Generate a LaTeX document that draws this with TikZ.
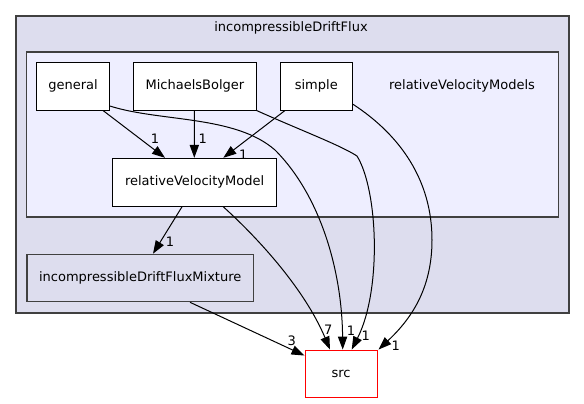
\documentclass[tikz,border=0pt]{standalone}
\usepackage{fontspec}
\setmainfont{DejaVu Sans}
\usetikzlibrary{arrows.meta}
\definecolor{outerfill}{HTML}{DDDDEE}
\definecolor{innerfill}{HTML}{EEEEFF}
\definecolor{clborder}{HTML}{404040}
\tikzset{
  dirbox/.style={draw=black, fill=white, line width=1pt, rectangle, inner sep=0pt, font=\fontsize{13}{15}\selectfont},
  edge/.style={draw=black, line width=1pt, -{Triangle[length=13pt,width=9.3pt]}},
  elabel/.style={inner sep=0pt, font=\fontsize{13}{15}\selectfont},
  cltitle/.style={inner sep=0pt, font=\fontsize{13}{15}\selectfont}
}
\begin{document}
\begin{tikzpicture}[x=1pt,y=-1pt]
\useasboundingbox (0,0) rectangle (584,404);
% clusters
\draw[fill=outerfill, draw=clborder, line width=1.8pt] (15.7,16) rectangle (568.6,313);
\node[cltitle] (outerlabel) at (291,27.5) {incompressibleDriftFlux};
\draw[fill=innerfill, draw=clborder, line width=1.3pt] (26.8,52) rectangle (558.4,217);
\node[cltitle] (innerlabel) at (462,85.5) {relativeVelocityModels};
% nodes
\node[dirbox, minimum width=72.6pt, minimum height=47.4pt] (general) at (73,86.3) {general};
\node[dirbox, minimum width=123.3pt, minimum height=47.4pt] (MB) at (194.9,86.3) {MichaelsBolger};
\node[dirbox, minimum width=72.5pt, minimum height=47.4pt] (simple) at (316.3,86.3) {simple};
\node[dirbox, minimum width=163.8pt, minimum height=48pt] (relVM) at (194.6,182.3) {relativeVelocityModel};
\node[dirbox, fill=outerfill, draw=clborder, line width=1.2pt, minimum width=226.5pt, minimum height=47.4pt] (mixture) at (140.2,278) {incompressibleDriftFluxMixture};
\node[dirbox, draw=red, minimum width=72pt, minimum height=47.7pt] (src) at (341,373.9) {src};
% edges
\draw[edge] ([xshift=30pt]general.south) -- ([xshift=-29.6pt]relVM.north);
\draw[edge] ([xshift=-0.5pt]MB.south) -- ([xshift=-0.3pt]relVM.north);
\draw[edge] ([xshift=-31.3pt]simple.south) -- ([xshift=28.7pt]relVM.north);
\draw[edge] ([xshift=-12.6pt]relVM.south) -- ([xshift=12.8pt]mixture.north);
\draw[edge] ([yshift=-19.7pt]general.east) .. controls (160,122) and (235,115) .. (275,150)
   .. controls (320,195) and (342,270) .. ([xshift=1.7pt]src.north);
\draw[edge] ([xshift=-0.5pt]MB.south east) .. controls (300,130) and (340,145) .. (357,156)
   .. controls (378,190) and (382,290) .. ([xshift=10.7pt]src.north);
\draw[edge] ([yshift=-18pt]simple.east) .. controls (400,135) and (432,180) .. (432,240)
   .. controls (432,290) and (410,320) .. ([xshift=1pt]src.north east);
\draw[edge] ([xshift=28.7pt]relVM.south) .. controls (260,240) and (305,290) .. ([xshift=-11pt]src.north);
\draw[edge] ([xshift=49.8pt]mixture.south) -- ([yshift=-6pt]src.north west);
% edge labels
\node[elabel] (l1) at (155,139) {1};
\node[elabel] (l2) at (202.7,139) {1};
\node[elabel] (l3) at (243.3,154.3) {1};
\node[elabel] (l4) at (170,242) {1};
\node[elabel] (l5) at (291.7,341) {3};
\node[elabel] (l6) at (328.3,329.3) {7};
\node[elabel] (l7) at (351,330.7) {1};
\node[elabel] (l8) at (365.7,335.7) {1};
\node[elabel] (l9) at (395.7,345.7) {1};
\end{tikzpicture}
\end{document}
